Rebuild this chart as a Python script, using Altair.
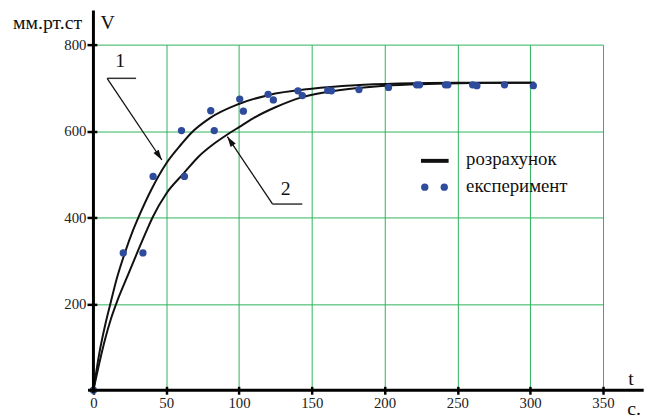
import math
import altair as alt
import pandas as pd

# ---------------- data ----------------
# curve 1 (upper calculated curve)
c1_t = [0, 4, 8, 12, 16, 21.6, 27.3, 30.9, 40, 50, 60.5, 67, 80, 99.4, 120, 150, 180, 210, 250, 303]
c1_v = [0, 85, 150, 205, 258, 318, 371, 400, 466, 525, 570, 595, 630, 662, 683, 698, 706, 710, 712, 712]
# curve 2 (lower calculated curve)
c2_t = [0, 4, 8, 12, 16.4, 22.5, 31, 37, 40.6, 50, 62, 72, 83, 92, 100, 110, 125, 143, 160, 180, 200, 230, 260, 303]
c2_v = [0, 62, 118, 165, 207, 257, 326, 373, 400, 455, 502, 540, 571, 592, 609, 630, 655, 678, 690, 699, 705, 709, 711, 712]

# experimental points
exp_t = [0, 20.5, 34, 41, 62.5, 60.5, 83, 80.6, 100.5, 103, 120, 123.6, 140.5, 143.5, 161, 163.5,
         182.4, 202.7, 222, 224, 241.8, 243.5, 260.5, 263.4, 282.4, 302.2]
exp_v = [0, 318, 318, 495, 495, 601, 601, 647, 674, 646, 685, 672, 693, 682, 694, 693,
         696, 701, 707, 707, 707, 707, 707, 705, 707, 705]

x_ticks = [0, 50, 100, 150, 200, 250, 300, 350]
y_ticks = [200, 400, 600, 800]

legend_labels = ["розрахунок", "експеримент"]
curve_labels = ["1", "2"]
y_title = "V"
y_unit = "мм.рт.ст"
x_title = "t"
x_unit = "с."

# ---------------- layout / style ----------------
X_MAX = 350
Y_MAX = 800
W = 515.9
H = 350.0
SX = W / X_MAX
SY = H / Y_MAX
FONT = "Liberation Serif, DejaVu Serif, Noto Serif, FreeSerif, Tinos, Times New Roman, Times, serif"
GREEN = "#2cb35a"
BLUE = "#2f4b9b"
INK = "#111111"

xs = alt.Scale(domain=[0, X_MAX], nice=False, zero=False)
ys = alt.Scale(domain=[0, Y_MAX], nice=False, zero=False)

x_axis = alt.Axis(values=x_ticks, grid=True, gridColor=GREEN, gridWidth=1, domain=False,
                  tickColor="black", tickWidth=2.5, tickSize=8, offset=-4,
                  labelFont=FONT, labelFontSize=15, labelColor="#222222", labelPadding=1,
                  labelFlush=False, title="")
y_axis = alt.Axis(values=y_ticks, grid=True, gridColor=GREEN, gridWidth=1, domain=False,
                  tickColor="black", tickWidth=2.5, tickSize=10, offset=-3.5,
                  labelFont=FONT, labelFontSize=15, labelColor="#222222", labelPadding=1,
                  title="")


def X(field="t"):
    return alt.X(f"{field}:Q", scale=xs, axis=x_axis, title="")


def Y(field="v"):
    return alt.Y(f"{field}:Q", scale=ys, axis=y_axis, title="")


# curves
curves = pd.DataFrame({
    "t": c1_t + c2_t,
    "v": c1_v + c2_v,
    "curve": [curve_labels[0]] * len(c1_t) + [curve_labels[1]] * len(c2_t),
})
curve_layer = alt.Chart(curves).mark_line(color=INK, strokeWidth=2, interpolate="monotone").encode(
    x=X(), y=Y(), detail="curve:N",
)

points = pd.DataFrame({"t": exp_t, "v": exp_v})
point_layer = alt.Chart(points).mark_circle(size=55, color=BLUE, opacity=1).encode(x=X(), y=Y())

# axis lines (extended beyond the grid as in the original)
axes_df = pd.DataFrame({"t": [0, -3.7], "v": [-6, 0], "t2": [0, 378], "v2": [879, 0]})
axes_layer = alt.Chart(axes_df).mark_rule(color="black", strokeWidth=3).encode(
    x=X(), y=Y(), x2="t2:Q", y2="v2:Q")

# curve labels with leaders
lab_df = pd.DataFrame({"label": curve_labels, "t": [18.4, 132.0], "v": [762, 466]})
under_df = pd.DataFrame({"t": [9.4, 123.1], "t2": [29.3, 143.5], "v": [722, 431]})
lead_df = pd.DataFrame({"t": [9.4, 123.1], "v": [722, 431], "t2": [47.0, 92.0], "v2": [533, 587]})
lead_df["ang"] = [
    math.degrees(math.atan2((r.t2 - r.t) * SX, (r.v2 - r.v) * SY)) % 360
    for r in lead_df.itertuples()
]

label_layer = alt.Chart(lab_df).mark_text(font=FONT, fontSize=20, color=INK, align="center",
                                          baseline="middle").encode(x=X(), y=Y(), text="label:N")
under_layer = alt.Chart(under_df).mark_rule(color="#333333", strokeWidth=1.5).encode(
    x=X(), x2="t2:Q", y=Y())
lead_layer = alt.Chart(lead_df).mark_rule(color=INK, strokeWidth=1.3).encode(
    x=X(), y=Y(), x2="t2:Q", y2="v2:Q")
head_layer = alt.Chart(lead_df).mark_point(shape="M0,0L-0.3,1L0.3,1Z", filled=True, color=INK,
                                           opacity=1, size=440).encode(
    x=X("t2"), y=Y("v2"), angle=alt.Angle("ang:Q", scale=None))

# legend (drawn inside the plot)
leg_line = pd.DataFrame({"t": [225.0], "t2": [244.0], "v": [531]})
leg_line_layer = alt.Chart(leg_line).mark_rule(color=INK, strokeWidth=4).encode(x=X(), x2="t2:Q", y=Y())
leg_dots = pd.DataFrame({"t": [227.6, 241.0], "v": [470, 470]})
leg_dots_layer = alt.Chart(leg_dots).mark_circle(size=55, color=BLUE, opacity=1).encode(x=X(), y=Y())
leg_text = pd.DataFrame({"label": legend_labels, "t": [256.0, 256.0], "v": [521, 458]})
leg_text_layer = alt.Chart(leg_text).mark_text(font=FONT, fontSize=19, color=INK, align="left",
                                               baseline="alphabetic").encode(x=X(), y=Y(), text="label:N")

# axis titles
left_txt = pd.DataFrame({"label": [y_title, x_title, x_unit], "t": [4.9, 367.4, 366.7], "v": [836, 12, -58]})
left_txt_layer = alt.Chart(left_txt).mark_text(font=FONT, fontSize=20, color=INK, align="left",
                                               baseline="alphabetic").encode(x=X(), y=Y(), text="label:N")
right_txt = pd.DataFrame({"label": [y_unit], "t": [-7.8], "v": [836]})
right_txt_layer = alt.Chart(right_txt).mark_text(font=FONT, fontSize=20, color=INK, align="right",
                                                 baseline="alphabetic").encode(x=X(), y=Y(), text="label:N")

chart = alt.layer(
    curve_layer, lead_layer, under_layer, head_layer, label_layer,
    point_layer, axes_layer,
    leg_line_layer, leg_dots_layer, leg_text_layer,
    left_txt_layer, right_txt_layer,
).properties(
    width=W, height=H,
    autosize=alt.AutoSizeParams(type="none"),
    padding={"left": 86.5, "top": 34.5, "right": 42.6, "bottom": 26.5},
    background="white",
).configure_view(stroke=None)

chart.save("out.html", embed_options={"renderer": "svg", "actions": False})
